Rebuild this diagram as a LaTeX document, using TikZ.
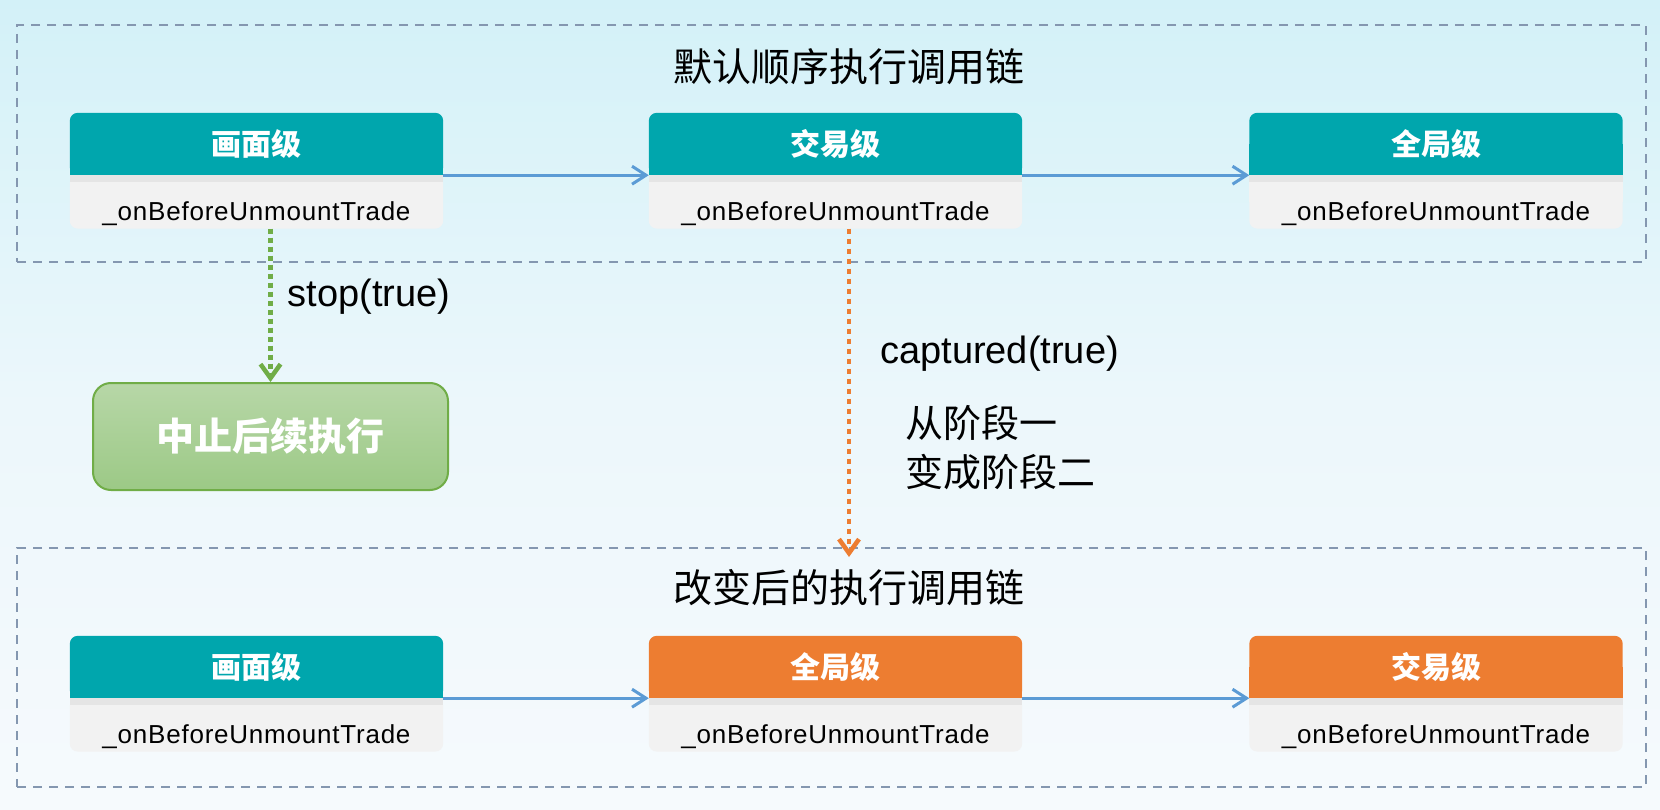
\documentclass[tikz,border=0pt]{standalone}
\usepackage{fontspec}
\setmainfont{Liberation Sans}
\newfontfamily\cjk{Noto Sans CJK SC}
\newfontfamily\codefont[LetterSpace=3]{Liberation Sans}
\usetikzlibrary{positioning, arrows.meta}

\definecolor{headteal}{RGB}{0,166,173}
\definecolor{headorange}{RGB}{237,125,49}
\definecolor{bodygray}{RGB}{242,242,242}
\definecolor{stripgray}{RGB}{229,229,229}
\definecolor{flowblue}{RGB}{91,155,213}
\definecolor{stopgreen}{RGB}{112,173,71}
\definecolor{frameblue}{RGB}{132,151,176}
\definecolor{bgtop}{RGB}{211,241,248}
\definecolor{bgmid}{RGB}{236,247,251}
\definecolor{bgbottom}{RGB}{246,250,253}

\pgfdeclarelayer{back}
\pgfdeclarelayer{fills}
\pgfsetlayers{back,fills,main}

\tikzset{
  stagehead/.style={minimum width=373, minimum height=62, inner sep=0,
    text=white, font=\cjk\bfseries\fontsize{30}{36}\selectfont},
  stagebody/.style={minimum width=373, minimum height=53, inner sep=0,
    text height=37pt, text depth=0pt, font=\codefont\fontsize{26}{30}\selectfont},
  frame/.style={draw=frameblue, line width=2.4, dash pattern=on 9pt off 7pt,
    minimum width=1629, inner sep=0},
  title/.style={font=\cjk\fontsize{39}{46}\selectfont},
  note/.style={inner sep=2, font=\fontsize{38}{46}\selectfont},
  flow/.style={draw=flowblue, line width=3, -{Straight Barb[length=14pt, width=18pt]}},
  stopline/.style={draw=stopgreen, line width=4.5, dash pattern=on 5pt off 4pt,
    -{Straight Barb[length=14pt, width=20pt]}},
  capline/.style={draw=headorange, line width=4.5, dash pattern=on 5pt off 5pt,
    -{Straight Barb[length=14pt, width=20pt]}},
  haltbox/.style={rounded corners=18, minimum width=355, minimum height=107,
    draw=stopgreen, line width=2, top color={rgb,255:red,183;green,215;blue,167},
    bottom color={rgb,255:red,156;green,201;blue,134}, text=white,
    font=\cjk\bfseries\fontsize{38}{44}\selectfont}
}

\begin{document}
\begin{tikzpicture}[x=1pt, y=-1pt]
  \useasboundingbox (0,0) rectangle (1660,810);
  \begin{pgfonlayer}{back}
    \shade[top color=bgtop, bottom color=bgbottom, middle color=bgmid] (0,0) rectangle (1660,810);
  \end{pgfonlayer}

  % default chain
  \node[frame, minimum height=237] (chainA) at (831.5,143.5) {};
  \node[title] (titleA) at (849,67) {默认顺序执行调用链};
  \node[stagehead] (a1-head) at (256.5,144) {画面级};
  \node[stagehead] (a2-head) at (835.5,144) {交易级};
  \node[stagehead] (a3-head) at (1436,144) {全局级};
  \node[stagebody, below=0pt of a1-head] (a1-body) {\_onBeforeUnmountTrade};
  \node[stagebody, below=0pt of a2-head] (a2-body) {\_onBeforeUnmountTrade};
  \node[stagebody, below=0pt of a3-head] (a3-body) {\_onBeforeUnmountTrade};

  % changed chain
  \node[frame, minimum height=239] (chainB) at (831.5,667.5) {};
  \node[title] (titleB) at (849,588) {改变后的执行调用链};
  \node[stagehead] (b1-head) at (256.5,667) {画面级};
  \node[stagehead] (b2-head) at (835.5,667) {全局级};
  \node[stagehead] (b3-head) at (1436,667) {交易级};
  \node[stagebody, below=0pt of b1-head] (b1-body) {\_onBeforeUnmountTrade};
  \node[stagebody, below=0pt of b2-head] (b2-body) {\_onBeforeUnmountTrade};
  \node[stagebody, below=0pt of b3-head] (b3-body) {\_onBeforeUnmountTrade};

  % box backgrounds
  \begin{pgfonlayer}{fills}
    \foreach \st/\c in {a1/headteal, a2/headteal, a3/headteal,
                        b1/headteal, b2/headorange, b3/headorange} {
      \fill[\c, rounded corners=8] (\st-head.north west) rectangle (\st-head.south east);
      \fill[\c] (\st-head.west) rectangle (\st-head.south east);
      \fill[bodygray, rounded corners=8] (\st-body.north west) rectangle (\st-body.south east);
      \fill[bodygray] (\st-body.north west) rectangle (\st-body.east);
      \fill[stripgray] (\st-body.north west) rectangle ([yshift=-7]\st-body.north east);
    }
  \end{pgfonlayer}

  \draw[flow] (a1-head.south east) -- (a2-head.south west);
  \draw[flow] (a2-head.south east) -- (a3-head.south west);
  \draw[flow] (b1-head.south east) -- (b2-head.south west);
  \draw[flow] (b2-head.south east) -- (b3-head.south west);

  % stop branch
  \node[haltbox] (halt) at (270.5,436.5) {中止后续执行};
  \draw[stopline] (halt.north |- a1-body.south) --
    node[note, pos=0.445, anchor=west, xshift=13] (stoplbl) {stop(true)} (halt.north);

  % captured branch
  \coordinate (capend) at (849,557);
  \draw[capline] (capend |- a2-body.south) --
    node[note, pos=0.38, anchor=west, xshift=27] (caplbl) {captured(true)} (capend);
  \node[note, font=\cjk\fontsize{38}{49}\selectfont, align=left, anchor=west]
    (phase) at (903,447.5) {从阶段一\\变成阶段二};
\end{tikzpicture}
\end{document}
